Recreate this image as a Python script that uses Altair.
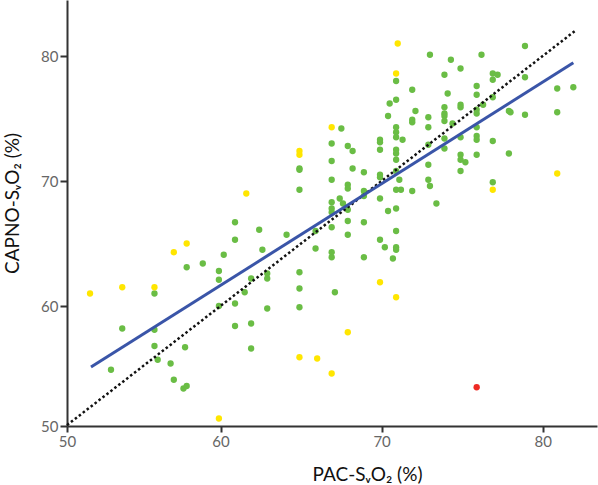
import altair as alt
import pandas as pd

# ---- data ----
green_x = [55.9, 57.9, 53.9, 55.9, 55.9, 56.1, 53.2, 56.9, 57.8, 57.1, 57.7, 57.9,
           60.9, 62.4, 64.1, 60.9, 62.6, 60.2, 58.9, 59.9, 59.9, 61.9, 62.9, 62.9,
           64.9, 64.9, 64.9, 61.5, 59.9, 60.9, 62.9, 60.9, 61.9, 61.9,
           65.9, 66.9, 66.9, 67.1, 68.9, 69.9, 70.2, 70.7, 70.9, 70.9,
           70.9, 70.9, 70.5, 70.4, 67.5, 66.9, 67.9, 68.2, 64.9, 64.9, 66.9, 68.2,
           68.9, 69.9, 69.9, 69.9, 70.9, 70.9, 70.9, 70.9, 70.9, 70.9, 64.9, 66.9,
           67.9, 67.9, 68.9, 68.9, 69.9, 69.9, 69.9, 70.4, 70.9, 70.9, 66.9, 66.9,
           66.9, 67.4, 67.6, 67.9, 66.9, 67.9, 67.9, 68.9, 70.9, 65.9,
           72.1, 71.9, 71.9, 72.9, 72.9, 73.9, 73.9, 73.9, 73.9, 71.3, 72.9, 73.9,
           73.9, 70.9, 71.1, 71.2, 71.9, 72.9, 72.9, 73.0, 73.4, 74.9, 74.9, 74.4,
           74.9, 75.9, 75.9, 75.9, 75.9, 75.9, 76.3, 76.9, 74.9, 74.9, 75.2, 74.9,
           75.9, 76.9, 73.0, 74.3, 74.9, 76.2, 78.9, 73.9, 71.9, 74.1, 75.9, 75.9,
           76.9, 77.2, 76.9, 78.9, 76.9, 80.9, 81.9, 77.9, 78.0, 78.9, 80.9, 77.9]
green_y = [61.0, 63.1, 58.2, 58.1, 56.8, 55.7, 54.9, 55.4, 56.7, 54.1, 53.4, 53.6,
           66.7, 66.1, 65.7, 65.3, 64.5, 64.1, 63.4, 62.8, 62.1, 62.2, 62.6, 62.2,
           62.7, 61.4, 59.9, 61.1, 60.0, 60.2, 59.8, 58.4, 58.6, 56.6,
           64.6, 64.3, 63.9, 61.1, 63.9, 65.3, 64.7, 63.8, 64.7, 64.5,
           78.0, 76.5, 76.2, 75.2, 74.2, 73.0, 72.8, 72.4, 71.0, 70.9, 71.6, 71.0,
           70.7, 73.3, 73.1, 72.5, 74.3, 73.9, 73.5, 72.5, 72.2, 71.7, 69.3, 70.1,
           69.7, 69.4, 69.2, 68.8, 70.5, 70.3, 68.6, 67.6, 69.3, 67.8, 68.3, 67.8,
           67.5, 68.6, 68.2, 67.7, 66.3, 66.8, 65.7, 66.7, 66.0, 66.0,
           75.6, 74.9, 74.7, 75.1, 74.3, 75.9, 75.4, 75.2, 74.8, 73.3, 72.9, 73.4,
           72.6, 70.8, 70.1, 69.3, 69.2, 71.3, 70.1, 69.6, 68.2, 76.1, 75.9, 74.6,
           73.5, 75.7, 75.4, 74.3, 73.6, 73.3, 76.1, 73.2, 72.1, 71.7, 71.5, 70.8,
           72.1, 69.9, 80.1, 79.7, 79.0, 80.1, 80.8, 78.5, 77.3, 77.0, 77.6, 76.9,
           78.6, 78.5, 78.1, 78.3, 76.7, 77.4, 77.5, 75.6, 75.5, 75.3, 75.5, 72.2]

yellow_x = [51.9, 53.9, 55.9, 57.1, 57.9, 59.9, 61.6, 64.9, 64.9, 64.9,
            66.0, 66.9, 66.9, 67.9, 69.9, 70.9, 71.0, 70.9, 76.9, 80.9]
yellow_y = [61.0, 61.5, 61.5, 64.3, 65.0, 51.0, 69.0, 72.4, 72.1, 55.9,
            55.8, 54.6, 74.3, 57.9, 61.9, 60.7, 81.0, 78.6, 69.3, 70.6]

red_x = [75.9]
red_y = [53.5]

fit_x = [51.96, 81.9]
fit_y = [55.12, 79.46]
identity_xy = [50.47, 82.0]

X_DOMAIN = [50.47, 83.37]
Y_DOMAIN = [50.4, 84.48]

groups = ["green"] * len(green_x) + ["yellow"] * len(yellow_x) + ["red"] * len(red_x)
pts = pd.DataFrame({
    "x": green_x + yellow_x + red_x,
    "y": green_y + yellow_y + red_y,
    "g": groups,
})
fit = pd.DataFrame({"x": fit_x, "y": fit_y})
ident = pd.DataFrame({"x": identity_xy, "y": identity_xy})

FONT = "Lato"
LABEL_EXPR = "datum.value < 51 ? '50' : datum.label"

x_axis = alt.Axis(
    values=[50.47, 60, 70, 80], labelExpr=LABEL_EXPR, labelFlush=False,
    title="PAC-SᵥO₂ (%)", grid=False,
    domainColor="#333333", domainWidth=2, tickColor="#333333", tickWidth=2, tickSize=6,
    labelColor="#666666", labelFont=FONT, labelFontSize=15, labelPadding=2,
    titleFont=FONT, titleFontSize=19, titleFontWeight="normal", titleColor="#111111",
    titleX=300, titleY=54, titleAlign="center", titleBaseline="alphabetic",
)
y_axis = alt.Axis(
    values=[50.4, 60, 70, 80], labelExpr=LABEL_EXPR, labelFlush=False,
    title="CAPNO-SᵥO₂ (%)", grid=False,
    domainColor="#333333", domainWidth=2, tickColor="#333333", tickWidth=2, tickSize=7,
    labelColor="#666666", labelFont=FONT, labelFontSize=15, labelPadding=2,
    titleFont=FONT, titleFontSize=19, titleFontWeight="normal", titleColor="#111111",
    titleX=-49, titleY=203, titleAngle=270, titleAlign="center", titleBaseline="alphabetic",
)

xs = alt.Scale(domain=X_DOMAIN, nice=False, zero=False)
ys = alt.Scale(domain=Y_DOMAIN, nice=False, zero=False)

points = alt.Chart(pts).mark_circle(size=40, opacity=1).encode(
    x=alt.X("x:Q", scale=xs, axis=x_axis),
    y=alt.Y("y:Q", scale=ys, axis=y_axis),
    color=alt.Color("g:N", scale=alt.Scale(domain=["green", "yellow", "red"],
                                           range=["#6ABD45", "#FFE600", "#EE2A24"]),
                    legend=None),
)

ident_line = alt.Chart(ident).mark_line(color="#111111", strokeWidth=2.5,
                                        strokeDash=[2.5, 2.5]).encode(
    x=alt.X("x:Q", scale=xs), y=alt.Y("y:Q", scale=ys))

fit_line = alt.Chart(fit).mark_line(color="#3A55A8", strokeWidth=3).encode(
    x=alt.X("x:Q", scale=xs), y=alt.Y("y:Q", scale=ys))

chart = alt.layer(points, ident_line, fit_line).properties(
    width=530, height=426,
    autosize=alt.AutoSizeParams(type="none"),
    padding={"left": 67, "top": 0, "right": 1, "bottom": 59},
    background="white",
).configure_view(stroke=None)

chart.save("out.html", embed_options={"renderer": "svg", "actions": False})
